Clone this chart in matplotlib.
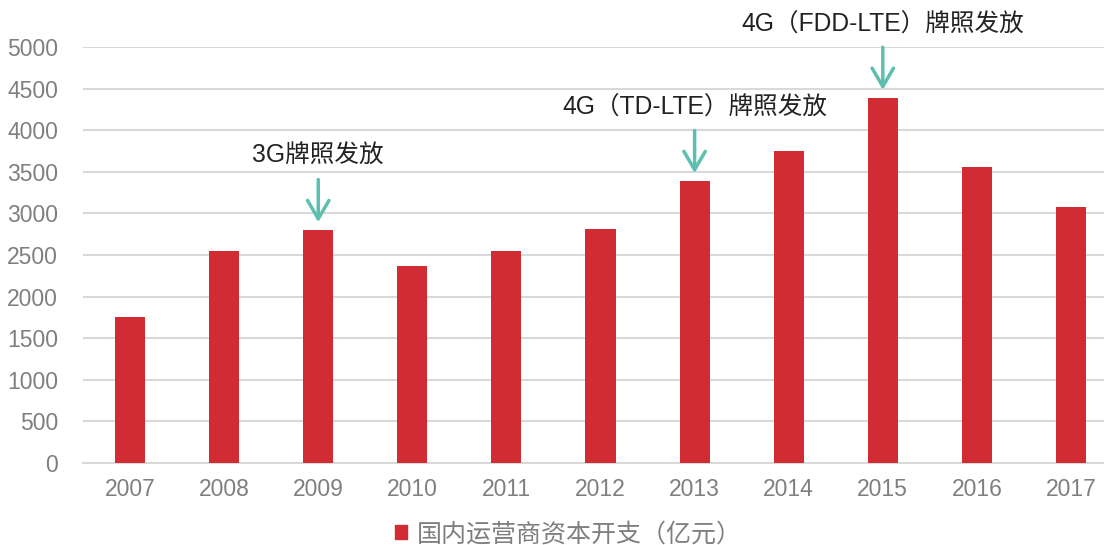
import matplotlib
matplotlib.use('Agg')
import matplotlib.pyplot as plt
from matplotlib.patches import Patch

years = ['2007', '2008', '2009', '2010', '2011', '2012',
         '2013', '2014', '2015', '2016', '2017']
capex = [1760, 2550, 2800, 2370, 2550, 2810, 3390, 3750, 4390, 3560, 3080]
series_name = '国内运营商资本开支（亿元）'

# annotations: (year index, label)
notes = [(2, '3G牌照发放'),
         (6, '4G（TD-LTE）牌照发放'),
         (8, '4G（FDD-LTE）牌照发放')]

C_BAR = '#d12b33'
C_GRID = '#d9d9d9'
C_TICK = '#7f7f7f'
C_ARROW = '#5dbfb0'
FONT = ['Liberation Sans', 'Noto Sans CJK SC', 'DejaVu Sans']
plt.rcParams['font.family'] = FONT

fig = plt.figure(figsize=(11.04, 5.45), dpi=100)
ax = fig.add_axes([0.0752, 0.1505, 0.9375, 0.7633])

x = list(range(len(years)))
ax.bar(x, capex, width=0.32, color=C_BAR, zorder=3)

ax.set_xlim(-0.5, len(years) - 0.5)
ax.set_ylim(0, 5000)
ax.set_yticks(range(0, 5001, 500))
ax.set_xticks(x)
ax.set_xticklabels(years)
ax.grid(axis='y', color=C_GRID, lw=1.5, zorder=0)
for s in ['top', 'right', 'left']:
    ax.spines[s].set_visible(False)
ax.spines['bottom'].set_color(C_GRID)
ax.spines['bottom'].set_linewidth(1.5)
ax.tick_params(axis='both', length=0, labelsize=16.5, colors=C_TICK)
ax.tick_params(axis='y', pad=18)
ax.tick_params(axis='x', pad=11)

for i, label in notes:
    top = capex[i]
    ax.annotate('', xy=(i, top + 60), xytext=(i, top + 640),
                arrowprops=dict(arrowstyle='->,head_width=0.35,head_length=0.6',
                                color=C_ARROW, lw=2.5, mutation_scale=22),
                annotation_clip=False, zorder=4)
    ax.text(i, top + 890, label, ha='center', va='center', fontsize=17.7,
            color='#222222', clip_on=False)

fig.legend(handles=[Patch(color=C_BAR)], labels=[series_name],
           loc='center', bbox_to_anchor=(0.515, 0.02), frameon=False,
           handlelength=0.5, handleheight=0.5, handletextpad=0.4,
           labelcolor=C_TICK, prop={'family': FONT, 'size': 18})

fig.savefig('out.png', dpi=100)
